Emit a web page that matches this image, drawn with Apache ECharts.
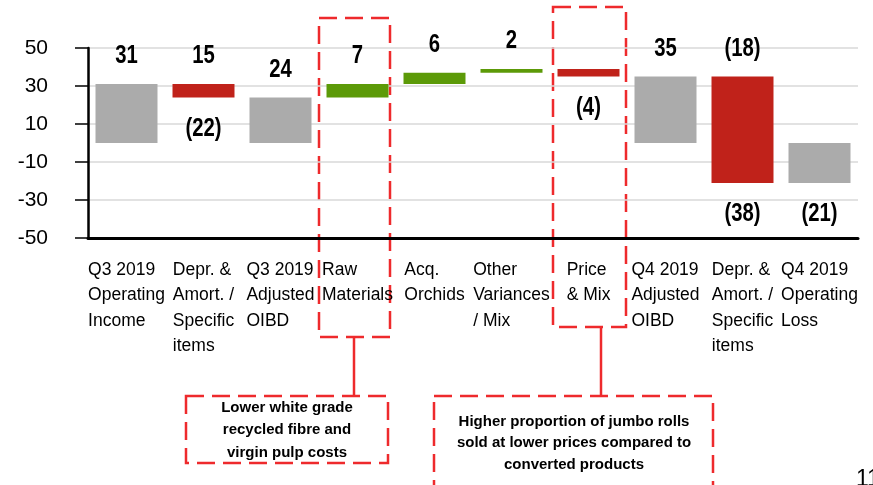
<!DOCTYPE html>
<html>
<head>
<meta charset="utf-8">
<script src="https://cdn.jsdelivr.net/npm/echarts@6/dist/echarts.min.js"></script>
<style>
  html, body { margin: 0; padding: 0; background: #fff; }
  #chart { width: 873px; height: 485px; }
</style>
</head>
<body>
<div id="chart"></div>
<script>
// categories (x axis)
var categories = [
  'Q3 2019\nOperating\nIncome',
  'Depr. &\nAmort. /\nSpecific\nitems',
  'Q3 2019\nAdjusted\nOIBD',
  'Raw\nMaterials',
  'Acq.\nOrchids',
  'Other\nVariances\n/ Mix',
  'Price\n& Mix',
  'Q4 2019\nAdjusted\nOIBD',
  'Depr. &\nAmort. /\nSpecific\nitems',
  'Q4 2019\nOperating\nLoss'
];
// bar bottoms and tops
var lows  = [0, 24, 0, 24, 31, 37, 35, 0, -21, -21];
var highs = [31, 31, 24, 31, 37, 39, 39, 35, 35, 0];
// bar kind: total / up / down
var kinds = ['total', 'down', 'total', 'up', 'up', 'up', 'down', 'total', 'down', 'total'];
// value labels above / below
var topLabels    = ['31', '15', '24', '7', '6', '2', '', '35', '(18)', ''];
var bottomLabels = ['', '(22)', '', '', '', '', '(4)', '', '(38)', '(21)'];
// y axis ticks
var yMin = -50, yMax = 50, yStep = 20;

var colors = { total: '#ABABAB', up: '#5C9A08', down: '#C0221A' };
var font = "'Liberation Sans', Arial, sans-serif";
var red = '#EE2A2C';

var chart = echarts.init(document.getElementById('chart'));

var barData = categories.map(function (c, i) { return [i, lows[i], highs[i]]; });

// bold, slightly condensed value label
function valueText(x, y, txt) {
  return {
    type: 'text', x: x, y: y, scaleX: 0.78,
    style: { text: txt, fill: '#000', fontFamily: font, fontWeight: 'bold',
             fontSize: 26, align: 'center', verticalAlign: 'middle' }
  };
}

chart.setOption({
  animation: false,
  grid: { left: 88, right: 15, top: 48, bottom: 247 },
  xAxis: {
    type: 'category',
    data: categories,
    axisTick: { show: false },
    axisLine: { onZero: false, lineStyle: { color: '#000', width: 3 } },
    axisLabel: {
      interval: 0,
      margin: 19,
      align: 'center',
      formatter: function (v) {
        return v.split('\n').map(function (l) { return '{a|' + l + '}'; }).join('\n');
      },
      rich: {
        a: { align: 'left', fontFamily: font, fontSize: 17.5, lineHeight: 25.5, color: '#000' }
      }
    }
  },
  yAxis: {
    type: 'value',
    min: yMin,
    max: yMax,
    interval: yStep,
    axisLine: { show: true, lineStyle: { color: '#000', width: 2.5 } },
    axisTick: { show: true, length: 13, lineStyle: { color: '#000', width: 1.5 } },
    axisLabel: { margin: 40, fontFamily: font, fontSize: 21, color: '#000' },
    splitLine: { lineStyle: { color: '#D9D9D9', width: 1.5 } }
  },
  series: [{
    type: 'custom',
    data: barData,
    encode: { x: 0, y: [1, 2] },
    renderItem: function (params, api) {
      var i = api.value(0);
      var pTop = api.coord([i, api.value(2)]);
      var pBot = api.coord([i, api.value(1)]);
      var w = api.size([1, 0])[0] * 0.805;
      var kids = [{
        type: 'rect',
        shape: { x: pTop[0] - w / 2, y: pTop[1], width: w, height: pBot[1] - pTop[1] },
        style: { fill: colors[kinds[i]] }
      }];
      if (topLabels[i]) kids.push(valueText(pTop[0], pTop[1] - 28, topLabels[i]));
      if (bottomLabels[i]) kids.push(valueText(pBot[0], pBot[1] + 31, bottomLabels[i]));
      return { type: 'group', children: kids };
    }
  }],
  graphic: [
    // dashed highlight boxes
    { type: 'rect', shape: { x: 319, y: 18, width: 71, height: 319 },
      style: { fill: 'none', stroke: red, lineWidth: 2.5, lineDash: [18, 8] } },
    { type: 'rect', shape: { x: 553, y: 7, width: 73, height: 320 },
      style: { fill: 'none', stroke: red, lineWidth: 2.5, lineDash: [18, 8] } },
    // connectors
    { type: 'line', shape: { x1: 354, y1: 337, x2: 354, y2: 396 },
      style: { stroke: red, lineWidth: 2.5 } },
    { type: 'line', shape: { x1: 601, y1: 327, x2: 601, y2: 396 },
      style: { stroke: red, lineWidth: 2.5 } },
    // note boxes
    { type: 'rect', shape: { x: 186, y: 396, width: 202, height: 67 },
      style: { fill: 'none', stroke: red, lineWidth: 2.5, lineDash: [18, 8] } },
    { type: 'rect', shape: { x: 434, y: 396, width: 279, height: 110 },
      style: { fill: 'none', stroke: red, lineWidth: 2.5, lineDash: [18, 8] } },
    { type: 'text', x: 287, y: 430,
      style: { text: 'Lower white grade\nrecycled fibre and\nvirgin pulp costs', fill: '#000',
               fontFamily: font, fontWeight: 'bold', fontSize: 15, lineHeight: 22.5,
               align: 'center', verticalAlign: 'middle' } },
    { type: 'text', x: 574, y: 443,
      style: { text: 'Higher proportion of jumbo rolls\nsold at lower prices compared to\nconverted products', fill: '#000',
               fontFamily: font, fontWeight: 'bold', fontSize: 15, lineHeight: 21.5,
               align: 'center', verticalAlign: 'middle' } },
    // page number, cut by the edge
    { type: 'text', x: 856, y: 468,
      style: { text: '11', fill: '#000', fontFamily: font, fontSize: 23,
               align: 'left', verticalAlign: 'top' } }
  ]
});
</script>
</body>
</html>
